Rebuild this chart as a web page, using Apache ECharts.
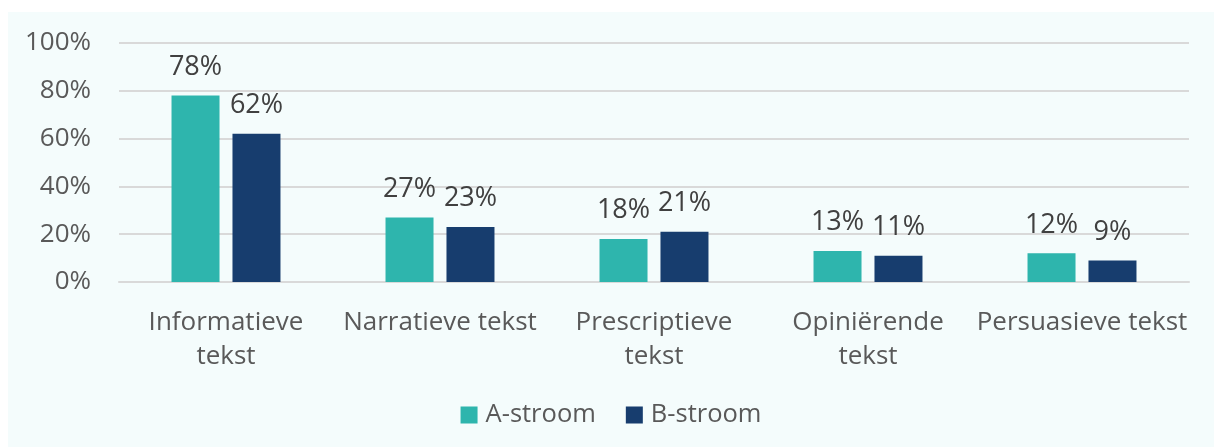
<!DOCTYPE html>
<html>
<head>
    <meta charset="utf-8">
    <title>tekstsoorten</title>
    <script src="https://cdn.jsdelivr.net/npm/echarts@6/dist/echarts.min.js"></script>
    <style>
        body { margin: 0; background: #ffffff; }
        #main { position: absolute; left: 8px; top: 12px; width: 1206px; height: 435px; }
    </style>
</head>
<body>

<div id="main"></div>

<script type="text/javascript">
    var categories = ['Informatieve\ntekst', 'Narratieve tekst', 'Prescriptieve\ntekst', 'Opiniërende\ntekst', 'Persuasieve tekst'];
    var seriesNames = ['A-stroom', 'B-stroom'];
    var aStroom = [78, 27, 18, 13, 12];
    var bStroom = [62, 23, 21, 11, 9];

    var fontFamily = '"Open Sans", sans-serif';
    var myChart = echarts.init(document.getElementById('main'));

    function pct(p) {
        return p.value + '%';
    }

    var option = {
        backgroundColor: '#F4FCFC',
        animation: false,
        textStyle: { fontFamily: fontFamily },
        grid: { left: 111, right: 25, top: 31, bottom: 165 },
        legend: {
            bottom: 14,
            left: 'center',
            itemWidth: 17,
            itemHeight: 17,
            itemGap: 30,
            icon: 'rect',
            textStyle: { fontSize: 25.5, color: '#595959', fontFamily: fontFamily, padding: [0, 0, 0, 3] },
            data: seriesNames
        },
        xAxis: {
            type: 'category',
            data: categories,
            axisLine: { show: true, lineStyle: { color: '#D9D9D9', width: 2 } },
            axisTick: { show: false },
            axisLabel: { color: '#595959', fontSize: 26, lineHeight: 34, margin: 24, interval: 0 }
        },
        yAxis: {
            type: 'value',
            min: 0,
            max: 100,
            interval: 20,
            axisLabel: { formatter: '{value}%', color: '#595959', fontSize: 26, margin: 28 },
            splitLine: { lineStyle: { color: '#D9D9D9', width: 2 } }
        },
        series: [
            {
                name: seriesNames[0],
                type: 'bar',
                data: aStroom,
                barWidth: 48,
                barGap: '27%',
                itemStyle: { color: '#2EB5AD' },
                label: { show: true, position: 'top', formatter: pct, color: '#404040', fontSize: 27, distance: 15 }
            },
            {
                name: seriesNames[1],
                type: 'bar',
                data: bStroom,
                barWidth: 48,
                itemStyle: { color: '#173D6E' },
                label: { show: true, position: 'top', formatter: pct, color: '#404040', fontSize: 27, distance: 15 }
            }
        ]
    };

    myChart.setOption(option);
</script>
</body>
</html>
